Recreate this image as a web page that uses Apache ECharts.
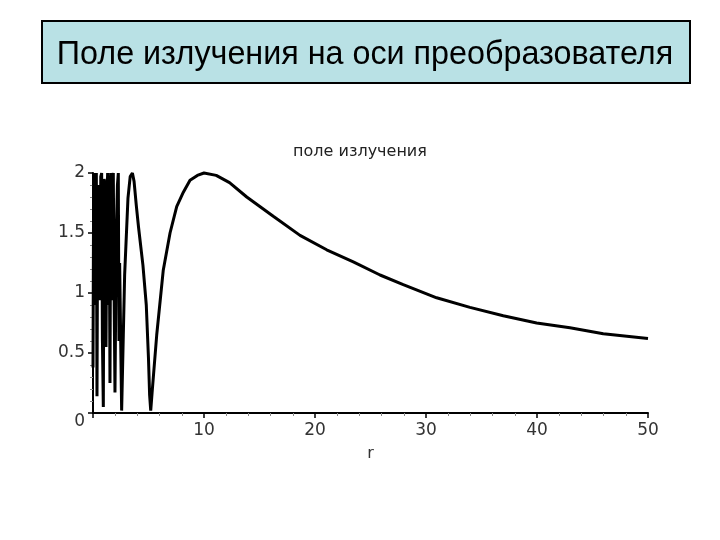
<!DOCTYPE html>
<html>
<head>
<meta charset="utf-8">
<script src="https://cdn.jsdelivr.net/npm/echarts@6/dist/echarts.min.js"></script>
<style>
html,body{margin:0;padding:0;background:#fff;}
#chart{width:720px;height:540px;}
</style>
</head>
<body>
<div id="chart"></div>
<script>
// Data (r, field amplitude)
var slideTitle = 'Поле излучения на оси преобразователя';
var plotTitle = 'поле излучения';
var xAxisName = 'r';
var xTicks = [0, 10, 20, 30, 40, 50];
var yTicks = [0, 0.5, 1, 1.5, 2];
var rValues = [
  0.0, 0.06, 0.12, 0.18, 0.24, 0.3, 0.36, 0.43, 0.5, 0.56, 0.63, 0.7, 0.78, 0.85, 0.93, 1.0,
  1.1, 1.17, 1.25, 1.32, 1.38, 1.45, 1.53, 1.6, 1.68, 1.75, 1.83, 1.9, 1.98, 2.1, 2.2, 2.28,
  2.34, 2.4, 2.5, 2.58, 2.85, 3.15, 3.35, 3.55, 3.7, 3.9, 4.1, 4.5,
  4.8, 5.0, 5.1, 5.2, 5.35, 5.74, 6.33, 6.94, 7.54, 8.14, 8.74, 9.4, 10.0, 11.1, 12.3, 13.85,
  16.24, 18.65, 21.05, 23.45, 25.86, 27.95, 30.96, 33.96, 36.96, 39.97, 42.97, 45.97, 50.0
];
var fieldValues = [
  0.38, 2.0, 1.1, 1.98, 0.9, 2.0, 0.14, 1.9, 1.0, 1.85, 0.94, 1.97, 2.0, 0.6, 0.05, 1.95,
  1.9, 0.55, 1.8, 2.0, 0.9, 1.98, 0.25, 2.0, 0.94, 1.95, 2.0, 1.0, 0.17, 1.5, 1.9, 2.0,
  0.6, 1.25, 1.25, 0.02, 1.15, 1.79, 1.97, 2.0, 1.93, 1.73, 1.55, 1.23,
  0.9, 0.45, 0.15, 0.02, 0.2, 0.65, 1.19, 1.5, 1.72, 1.84, 1.94, 1.98, 2.0, 1.98, 1.92, 1.80,
  1.64, 1.48, 1.36, 1.26, 1.15, 1.07, 0.96, 0.88, 0.81, 0.75, 0.71, 0.66, 0.62
];

var seriesData = rValues.map(function (r, i) { return [r, fieldValues[i]]; });

var chart = echarts.init(document.getElementById('chart'), null, {renderer: 'canvas'});
var labelFont = 'DejaVu Sans';
chart.setOption({
  backgroundColor: '#ffffff',
  animation: false,
  title: {
    text: plotTitle,
    left: 'center',
    top: 139,
    textStyle: {fontFamily: labelFont, fontSize: 16, fontWeight: 'normal', color: '#222'}
  },
  graphic: [
    {
      type: 'rect',
      shape: {x: 42, y: 21, width: 648, height: 62},
      style: {fill: '#b9e1e5', stroke: '#000', lineWidth: 2},
      z: 0
    },
    {
      type: 'text',
      x: 365, y: 55,
      scaleX: 0.95,
      style: {
        text: slideTitle,
        fontFamily: 'Liberation Sans',
        fontSize: 34,
        fill: '#000',
        textAlign: 'center',
        textVerticalAlign: 'middle'
      },
      z: 1
    }
  ],
  grid: {left: 93, right: 72, top: 173, bottom: 127, containLabel: false},
  xAxis: {
    type: 'value',
    min: xTicks[0], max: xTicks[xTicks.length - 1], interval: 10,
    name: xAxisName,
    nameLocation: 'middle',
    nameGap: 33,
    nameTextStyle: {fontFamily: labelFont, fontSize: 16, color: '#333'},
    axisLine: {onZero: false, lineStyle: {color: '#000', width: 2}},
    axisTick: {show: true, inside: false, length: 5, lineStyle: {color: '#000', width: 1.5}},
    minorTick: {show: true, splitNumber: 5, length: 3, lineStyle: {color: '#888'}},
    splitLine: {show: false},
    axisLabel: {
      fontFamily: labelFont, fontSize: 17, color: '#333', margin: 9,
      formatter: function (v) { return v === 0 ? '' : String(v); }
    }
  },
  yAxis: {
    type: 'value',
    min: 0, max: 2, interval: 0.5,
    axisLine: {show: true, lineStyle: {color: '#000', width: 2}},
    axisTick: {show: true, inside: false, length: 5, lineStyle: {color: '#000', width: 1.5}},
    minorTick: {show: true, splitNumber: 5, length: 3, lineStyle: {color: '#888'}},
    splitLine: {show: false},
    axisLabel: {
      fontFamily: labelFont, fontSize: 17, color: '#333', margin: 8,
      formatter: function (v) { return v === 0 ? '{z|0}' : String(v); },
      rich: {z: {fontFamily: labelFont, fontSize: 17, color: '#333', padding: [18, 0, 0, 0]}}
    }
  },
  series: [{
    type: 'line',
    data: seriesData,
    showSymbol: false,
    smooth: false,
    clip: false,
    lineStyle: {color: '#000', width: 3},
    z: 5
  }]
});
</script>
</body>
</html>
